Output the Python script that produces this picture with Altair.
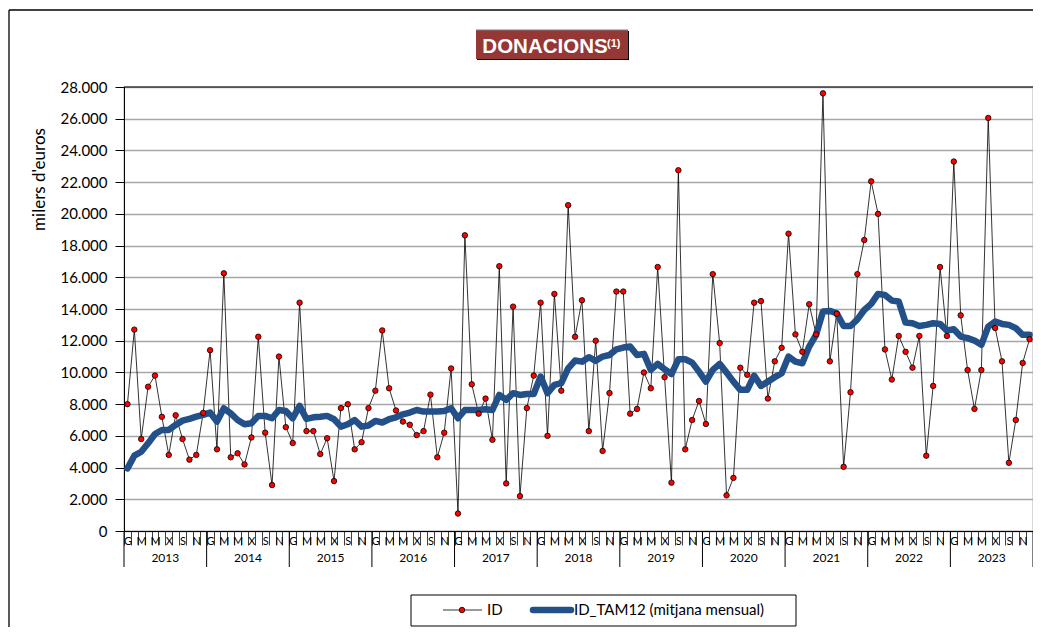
import altair as alt
import pandas as pd

YEARS = list(range(2013, 2024))
MONTH_LETTERS = ["G", "F", "M", "A", "M", "J", "X", "A", "S", "O", "N", "D"]

ID = [
    8000, 12700, 5800, 9100, 9800, 7200, 4800, 7300, 5800, 4500, 4800, 7450,
    11400, 5150, 16250, 4650, 4900, 4200, 5900, 12250, 6200, 2900, 11000, 6550,
    5550, 14400, 6300, 6300, 4850, 5850, 3150, 7750, 8000, 5150, 5600, 7750,
    8850, 12650, 9000, 7600, 6900, 6700, 6050, 6300, 8600, 4650, 6200, 10250,
    1100, 18650, 9250, 7400, 8350, 5750, 16700, 3000, 14150, 2200, 7750, 9800,
    14400, 6000, 14950, 8850, 20550, 12250, 14550, 6300, 12000, 5050, 8700, 15100,
    15100, 7400, 7700, 10000, 9000, 16650, 9700, 3050, 22750, 5150, 7000, 8200,
    6750, 16200, 11850, 2250, 3350, 10300, 9850, 14400, 14500, 8350, 10700, 11550,
    18750, 12400, 11300, 14300, 12400, 27600, 10700, 13700, 4050, 8750, 16200, 18350,
    22050, 20000, 11450, 9550, 12300, 11300, 10300, 12300, 4750, 9150, 16650, 12300,
    23300, 13600, 10150, 7700, 10150, 26050, 12800, 10700, 4300, 7000, 10600, 12100,
]

TAM12 = [
    3950, 4750, 5000, 5530, 6120, 6370, 6370, 6690, 6960, 7070, 7210, 7320,
    7470, 6900, 7740, 7420, 7000, 6730, 6790, 7260, 7260, 7110, 7630, 7570,
    7110, 7890, 7070, 7170, 7210, 7260, 7050, 6580, 6730, 7000, 6580, 6650,
    6940, 6840, 7050, 7170, 7360, 7470, 7630, 7530, 7530, 7530, 7570, 7740,
    7110, 7630, 7630, 7630, 7680, 7630, 8580, 8270, 8690, 8580, 8640, 8640,
    9740, 8690, 9210, 9320, 10260, 10750, 10680, 10960, 10730, 11000, 11100, 11460,
    11570, 11630, 11100, 11170, 10160, 10540, 10200, 9900, 10830, 10830, 10620, 10050,
    9420, 10160, 10540, 9990, 9420, 8900, 8900, 9800, 9150, 9420, 9700, 9950,
    11000, 10680, 10580, 11630, 12370, 13840, 13880, 13730, 12930, 12930, 13350, 13940,
    14320, 14950, 14890, 14530, 14470, 13140, 13100, 12930, 13000, 13100, 13060, 12640,
    12720, 12260, 12160, 12010, 11740, 12890, 13210, 13060, 13000, 12790, 12370, 12370,
]

TITLE = "DONACIONS"
TITLE_NOTE = "(1)"
Y_TITLE = "milers d'euros"
LEGEND_ID = "ID"
LEGEND_TAM = "ID_TAM12 (mitjana mensual)"

N = len(ID)
W, H = 909, 444
FONT = "Lato"
BLUE = "#24508a"

df = pd.DataFrame({
    "pos": [i + 0.5 for i in range(N)],
    "ID": ID,
    "TAM": TAM12,
})

letters_js = "[" + ",".join("'" + m + "'" for m in MONTH_LETTERS) + "]"
month_label_expr = (
    "(datum.value % 1 == 0 || floor(datum.value) % 2 == 1) ? '' : "
    + letters_js + "[floor(datum.value) % 12]"
)

x_scale = alt.Scale(domain=[0, N], nice=False, zero=False)
y_scale = alt.Scale(domain=[0, 28000], nice=False)

x_axis = alt.Axis(
    values=[k / 2 for k in range(2 * N + 1)],
    title=None,
    grid=False,
    domainColor="#000000",
    tickColor="#404040",
    tickSize=14,
    tickOpacity={"condition": {"test": "datum.value % 1 == 0", "value": 1}, "value": 0},
    labelExpr=month_label_expr,
    labelFont=FONT,
    labelFontSize=11,
    labelColor="#000000",
    labelBaseline="middle",
    labelPadding=-4,
    labelOverlap=False,
    labelFlush=False,
)

y_axis = alt.Axis(
    values=list(range(0, 28001, 2000)),
    title=Y_TITLE,
    titleFont=FONT,
    titleFontSize=17,
    titleFontWeight="normal",
    titleColor="#000000",
    titleX=-85,
    titleY=92,
    titleAngle=270,
    titleAlign="center",
    titleBaseline="middle",
    grid=True,
    gridColor="#a6a6a6",
    gridWidth=1.3,
    domainColor="#000000",
    tickColor="#000000",
    tickSize=9,
    labelPadding=8,
    labelFont=FONT,
    labelFontSize=15,
    labelColor="#000000",
    labelOverlap=False,
    labelExpr="replace(format(datum.value, ',d'), ',', '.')",
)


def X(field):
    return alt.X(field, scale=x_scale, axis=x_axis)


def Y(field):
    return alt.Y(field, scale=y_scale, axis=y_axis)


base = alt.Chart(df)

id_line = base.mark_line(color="#000000", strokeWidth=0.8).encode(
    x=X("pos:Q"), y=Y("ID:Q"),
)

tam_line = base.mark_line(color=BLUE, strokeWidth=6.5, strokeJoin="round", strokeCap="round").encode(
    x=X("pos:Q"), y=Y("TAM:Q"),
)

id_points = base.mark_point(
    filled=True, fill="#ff0000", stroke="#000000", strokeWidth=0.8, size=30, opacity=1
).encode(
    x=X("pos:Q"), y=Y("ID:Q"),
)

# year separators and labels
bounds = pd.DataFrame({"pos": [k * 12 for k in range(len(YEARS) + 1)]})
year_rules = alt.Chart(bounds).mark_rule(color="#000000", strokeWidth=1).encode(
    x=X("pos:Q"),
    y=alt.value(H),
    y2=alt.value(H + 36),
)
years_df = pd.DataFrame({"year": [str(y) for y in YEARS], "pos": [k * 12 + 6 for k in range(len(YEARS))]})
year_text = alt.Chart(years_df).mark_text(
    font=FONT, fontSize=12, color="#000000", baseline="middle", align="center"
).encode(
    x=X("pos:Q"),
    y=alt.value(H + 27),
    text="year:N",
)

one = pd.DataFrame({"k": [0]})
dec = alt.Chart(one)

top_rule = dec.mark_rule(color="#000000", strokeWidth=1.2).encode(
    x=alt.value(0), x2=alt.value(W), y=alt.value(0)
)

frame_left = dec.mark_rule(color="#000000", strokeWidth=1.3).encode(
    x=alt.value(-115), y=alt.value(-77), y2=alt.value(H + 120)
)
frame_top = dec.mark_rule(color="#000000", strokeWidth=1.3).encode(
    x=alt.value(-115), x2=alt.value(W + 10), y=alt.value(-77)
)

# title box
title_shadow = dec.mark_rect(color="#000000").encode(
    x=alt.value(353), x2=alt.value(505), y=alt.value(-56), y2=alt.value(-27)
)
title_box = dec.mark_rect(color="#953735").encode(
    x=alt.value(352), x2=alt.value(504), y=alt.value(-57), y2=alt.value(-28)
)
title_top = dec.mark_rule(color="#7f7f7f", strokeWidth=1).encode(
    x=alt.value(352), x2=alt.value(504), y=alt.value(-57)
)
title_text = dec.mark_text(
    text=TITLE, font="Liberation Sans", fontWeight="bold", fontSize=20.5, color="#ffffff",
    align="center", baseline="alphabetic"
).encode(x=alt.value(421), y=alt.value(-34))
title_note = dec.mark_text(
    text=TITLE_NOTE, font="Liberation Sans", fontWeight="bold", fontSize=11, color="#ffffff",
    align="left", baseline="alphabetic"
).encode(x=alt.value(483), y=alt.value(-40))

# legend
LY = 523
leg_box = dec.mark_rect(fill="#ffffff", stroke="#000000", strokeWidth=1).encode(
    x=alt.value(287), x2=alt.value(672), y=alt.value(508), y2=alt.value(539)
)
leg_id_line = dec.mark_rule(color="#000000", strokeWidth=0.8).encode(
    x=alt.value(319), x2=alt.value(358), y=alt.value(LY)
)
leg_id_pt = dec.mark_point(
    filled=True, fill="#ff0000", stroke="#000000", strokeWidth=0.8, size=30, opacity=1
).encode(x=alt.value(338), y=alt.value(LY))
leg_id_text = dec.mark_text(
    text=LEGEND_ID, font=FONT, fontSize=15, color="#000000", align="left", baseline="middle"
).encode(x=alt.value(363), y=alt.value(LY))
leg_tam_line = dec.mark_rule(color=BLUE, strokeWidth=6.5, strokeCap="round").encode(
    x=alt.value(409), x2=alt.value(447), y=alt.value(LY)
)
leg_tam_text = dec.mark_text(
    text=LEGEND_TAM, font=FONT, fontSize=15, color="#000000", align="left", baseline="middle"
).encode(x=alt.value(450), y=alt.value(LY))

chart = alt.layer(
    frame_left, frame_top,
    id_line, tam_line, id_points,
    year_rules, year_text, top_rule,
    title_shadow, title_box, title_top, title_text, title_note,
    leg_box, leg_id_line, leg_id_pt, leg_id_text, leg_tam_line, leg_tam_text,
).properties(
    width=W,
    height=H,
    autosize=alt.AutoSizeParams(type="none"),
    padding={"left": 116, "top": 79, "right": 0, "bottom": 96},
    background="#ffffff",
).configure_view(
    stroke="#808080", strokeWidth=1.2
)

chart.save("out.html", embed_options={"renderer": "svg", "actions": False})
